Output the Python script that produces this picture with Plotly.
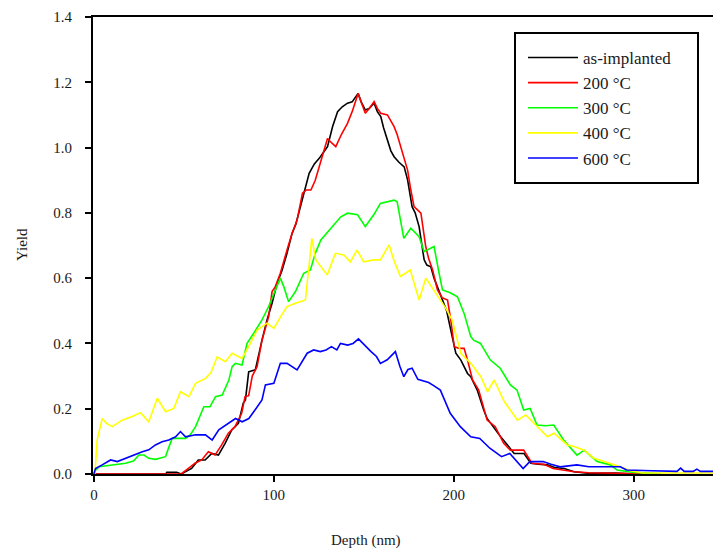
import plotly.graph_objects as go

# ---- data ----
black_x = [0, 40, 40.5, 46, 48.5, 54.3, 58, 61.8, 65.5, 69.2, 72.9, 76.6, 80.3, 83, 84.2, 86, 89.7, 91.6, 93.4, 96.2, 99, 101.8, 104.6, 107.3, 110.1, 112.2, 115.9, 119.6, 122.5, 125.2, 127.5, 129.8, 132.6, 135.4, 138, 140.9, 143.5, 146.8, 148.5, 150.8, 153, 155.7, 157.5, 159.4, 161, 163.1, 165, 166.8, 169.5, 172.4, 174.3, 176.8, 178.5, 180.7, 183.5, 185, 187.2, 189, 190.9, 193.7, 196, 198.3, 201.1, 203.9, 207.6, 209.4, 213, 216.6, 218.5, 220.5, 223, 226, 229.8, 233.5, 239, 242.8, 247, 252, 256, 261.3, 266.8, 270, 275, 290, 300]
black_y = [0, 0, 0.005, 0.005, 0, 0.017, 0.043, 0.043, 0.063, 0.058, 0.094, 0.135, 0.155, 0.217, 0.227, 0.313, 0.319, 0.37, 0.41, 0.472, 0.523, 0.584, 0.625, 0.676, 0.737, 0.765, 0.839, 0.921, 0.95, 0.967, 0.985, 1.003, 1.064, 1.110, 1.125, 1.136, 1.14, 1.166, 1.14, 1.115, 1.12, 1.136, 1.11, 1.095, 1.06, 1.023, 0.99, 0.972, 0.955, 0.941, 0.901, 0.819, 0.80, 0.758, 0.656, 0.64, 0.635, 0.60, 0.574, 0.533, 0.50, 0.441, 0.37, 0.349, 0.308, 0.298, 0.257, 0.196, 0.17, 0.155, 0.135, 0.114, 0.089, 0.063, 0.063, 0.033, 0.03, 0.028, 0.02, 0.017, 0.007, 0.005, 0.002, 0.003, 0]

red_x = [0, 48.5, 52.5, 56.2, 59.9, 63.6, 67.3, 71, 74.7, 78.4, 82.1, 84, 86, 88, 90.7, 93.4, 97.1, 99, 100.8, 103.6, 107.3, 110.1, 112.9, 114.5, 115.9, 118, 120.6, 123, 125.2, 127.5, 129.8, 132, 134.4, 137.5, 140.9, 143.5, 146.8, 148.8, 150.8, 153, 155.7, 157.5, 159.4, 163.1, 166.8, 168.5, 170.6, 172.5, 174.3, 176.1, 177.9, 179.8, 181.7, 184.4, 186, 188.2, 190.9, 193.5, 196.5, 198.3, 200.2, 203, 205.7, 207.6, 210.4, 213.8, 216, 218.5, 223, 225.5, 227.7, 231.4, 238.8, 243.4, 250, 255.2, 261, 266.8, 275, 290, 300, 315]
red_y = [0, 0, 0.017, 0.033, 0.043, 0.068, 0.058, 0.089, 0.125, 0.145, 0.186, 0.237, 0.24, 0.3, 0.329, 0.41, 0.482, 0.559, 0.574, 0.615, 0.686, 0.737, 0.778, 0.82, 0.86, 0.87, 0.87, 0.90, 0.941, 0.99, 1.028, 1.015, 1.003, 1.04, 1.074, 1.11, 1.166, 1.135, 1.105, 1.12, 1.141, 1.12, 1.105, 1.10, 1.064, 1.04, 1.003, 0.97, 0.931, 0.87, 0.819, 0.809, 0.799, 0.696, 0.66, 0.625, 0.564, 0.54, 0.533, 0.472, 0.39, 0.385, 0.385, 0.349, 0.288, 0.257, 0.21, 0.165, 0.145, 0.12, 0.094, 0.073, 0.073, 0.033, 0.03, 0.017, 0.012, 0.007, 0.004, 0.003, 0.002, 0]

green_x = [0, 0.9, 2.8, 10.2, 17.6, 22, 25, 27.8, 30.5, 34.2, 39.8, 41.5, 43.5, 50.9, 53.5, 56.5, 59, 61.1, 64.5, 67.6, 71.3, 75, 76.8, 78.6, 82.3, 85.1, 88.8, 93.4, 97.1, 100.8, 103.6, 105.5, 108.2, 112, 116.6, 120.3, 123, 126.1, 131.7, 137.2, 140.9, 146.5, 150.8, 155.5, 159.2, 166.8, 168.5, 172.2, 176.1, 180.7, 183.5, 189, 191.8, 193.7, 198, 202, 205.7, 209.4, 211, 214.8, 220.3, 225.8, 231.4, 235.1, 238.8, 242.4, 246.2, 251, 255.5, 261, 268.4, 272.4, 279.6, 287, 290.7, 300, 310, 315]
green_y = [0, 0.012, 0.022, 0.028, 0.033, 0.04, 0.058, 0.058, 0.048, 0.045, 0.053, 0.08, 0.109, 0.109, 0.12, 0.145, 0.18, 0.206, 0.206, 0.237, 0.242, 0.288, 0.329, 0.339, 0.334, 0.40, 0.431, 0.472, 0.513, 0.564, 0.60, 0.574, 0.528, 0.559, 0.615, 0.625, 0.676, 0.717, 0.753, 0.788, 0.799, 0.794, 0.758, 0.794, 0.829, 0.839, 0.834, 0.722, 0.753, 0.727, 0.681, 0.697, 0.615, 0.564, 0.555, 0.543, 0.492, 0.421, 0.41, 0.40, 0.349, 0.324, 0.273, 0.257, 0.196, 0.201, 0.15, 0.148, 0.15, 0.104, 0.058, 0.073, 0.038, 0.028, 0.012, 0.005, 0.002, 0]

yellow_x = [0, 0.6, 1.8, 4.6, 7, 10.2, 15.7, 21.3, 25.9, 30.5, 35.2, 39.8, 44.4, 48.1, 52.8, 56.5, 62, 65, 68.5, 73, 76.8, 82.3, 86, 90.7, 96.2, 100, 103.5, 107.3, 112, 117.5, 119.3, 121.1, 123.3, 126.1, 129.6, 134.2, 138.9, 142.5, 146.2, 149.9, 155.4, 159.2, 164, 166.6, 170.3, 175.8, 180.7, 184.4, 190, 195.5, 199, 201, 203.9, 209.4, 215, 218.7, 222.4, 228, 235.4, 240, 246.5, 252, 255.7, 263, 266.8, 272.4, 277.9, 287, 292.5, 298, 305, 345]
yellow_y = [0, 0.002, 0.104, 0.17, 0.155, 0.145, 0.165, 0.176, 0.188, 0.16, 0.232, 0.191, 0.201, 0.252, 0.237, 0.278, 0.293, 0.31, 0.359, 0.344, 0.37, 0.354, 0.39, 0.441, 0.462, 0.446, 0.48, 0.513, 0.523, 0.533, 0.625, 0.722, 0.656, 0.635, 0.61, 0.676, 0.671, 0.65, 0.686, 0.65, 0.656, 0.656, 0.702, 0.656, 0.605, 0.625, 0.533, 0.60, 0.554, 0.508, 0.472, 0.43, 0.37, 0.339, 0.298, 0.252, 0.288, 0.222, 0.165, 0.181, 0.145, 0.114, 0.125, 0.089, 0.084, 0.073, 0.048, 0.033, 0.022, 0.01, 0.003, 0.003]

blue_x = [0, 0.9, 4.6, 9.3, 13, 17.6, 21.3, 26.9, 30.5, 34.2, 37.9, 41.6, 45.4, 48.1, 50.9, 56.5, 62, 65.7, 69.4, 73.1, 78.7, 82.4, 86.1, 90, 93.4, 95.3, 100, 103.6, 107.3, 112.9, 118.5, 122.1, 125.8, 129, 132, 135, 137, 141, 144, 147, 151, 154, 157, 159.2, 163, 167.5, 170, 172.2, 174.5, 176.8, 180, 183, 186, 189, 192.5, 198, 203.6, 209.4, 214.4, 220, 226.5, 231.1, 238.5, 242.2, 249.6, 254, 259, 268.4, 275, 292.5, 296, 310, 324, 326, 328, 333, 335, 337, 345]
blue_y = [0, 0.017, 0.028, 0.043, 0.038, 0.048, 0.058, 0.068, 0.074, 0.089, 0.099, 0.104, 0.114, 0.13, 0.114, 0.12, 0.12, 0.104, 0.135, 0.15, 0.17, 0.16, 0.17, 0.2, 0.227, 0.273, 0.278, 0.339, 0.339, 0.319, 0.37, 0.38, 0.375, 0.38, 0.39, 0.38, 0.40, 0.395, 0.40, 0.414, 0.39, 0.375, 0.36, 0.339, 0.35, 0.375, 0.33, 0.298, 0.32, 0.324, 0.29, 0.285, 0.28, 0.27, 0.257, 0.186, 0.145, 0.114, 0.109, 0.079, 0.053, 0.063, 0.017, 0.038, 0.038, 0.03, 0.022, 0.028, 0.022, 0.022, 0.012, 0.01, 0.008, 0.018, 0.008, 0.008, 0.015, 0.008, 0.008]

series_names = ["as-implanted", "200 °C", "300 °C", "400 °C", "600 °C"]
series_colors = ["#000000", "#ff0000", "#00ff00", "#ffff00", "#0000ff"]
x_ticks = [0, 100, 200, 300]
y_ticks = [0.0, 0.2, 0.4, 0.6, 0.8, 1.0, 1.2, 1.4]

FONT = "Liberation Serif, Times New Roman, serif"
TXT = "#1a1a1a"

# plot area in pixels
L, T, W, H = 93, 17, 620, 457

def px_x(p):
    return (p - L) / W

def px_y(p):
    return (T + H - p) / H

fig = go.Figure()
xs = [black_x, red_x, green_x, yellow_x, blue_x]
ys = [black_y, red_y, green_y, yellow_y, blue_y]
for i, (xx, yy) in enumerate(zip(xs, ys)):
    fig.add_trace(go.Scatter(
        x=xx, y=yy, mode="lines", name=series_names[i],
        line=dict(color=series_colors[i], width=1.6),
        legendgroup=str(i),
    ))

fig.update_layout(
    width=713, height=554,
    margin=dict(l=L, r=713 - L - W, t=T, b=554 - T - H),
    paper_bgcolor="white", plot_bgcolor="white",
    font=dict(family=FONT, size=15, color=TXT),
    showlegend=True,
    legend=dict(
        x=px_x(523), y=px_y(40), xanchor="left", yanchor="top",
        bgcolor="rgba(0,0,0,0)", borderwidth=0,
        font=dict(family=FONT, size=17, color=TXT),
        traceorder="grouped", tracegroupgap=0,
        itemwidth=50,
    ),
    shapes=[dict(
        type="rect", xref="paper", yref="paper",
        x0=px_x(515), x1=px_x(698), y0=px_y(183), y1=px_y(33),
        line=dict(color="#000", width=2), fillcolor="white", layer="above",
    )],
    xaxis=dict(
        range=[-0.5, 344], tickvals=x_ticks, ticktext=[str(v) for v in x_ticks],
        showgrid=False, zeroline=False, showline=True, linecolor="#000", linewidth=2,
        mirror=True, ticks="outside", ticklen=6, tickwidth=1.5, tickcolor="#000",
        tickfont=dict(family=FONT, size=15, color=TXT),
    ),
    yaxis=dict(
        range=[0, 1.4], tickvals=y_ticks, ticktext=[f"{v:.1f}" for v in y_ticks],
        showgrid=False, zeroline=False, showline=True, linecolor="#000", linewidth=2,
        ticks="outside", ticklen=6, tickwidth=1.5, tickcolor="#000",
        ticklabelstandoff=10,
        tickfont=dict(family=FONT, size=15, color=TXT),
    ),
    annotations=[
        dict(text="Depth (nm)", xref="paper", yref="paper", x=px_x(366), y=px_y(540),
             xanchor="center", yanchor="middle", showarrow=False,
             font=dict(family=FONT, size=15, color=TXT)),
        dict(text="Yield", xref="paper", yref="paper", x=px_x(22), y=px_y(245),
             xanchor="center", yanchor="middle", showarrow=False, textangle=-90,
             font=dict(family=FONT, size=15, color=TXT)),
    ],
)

fig.write_html("out.html")
